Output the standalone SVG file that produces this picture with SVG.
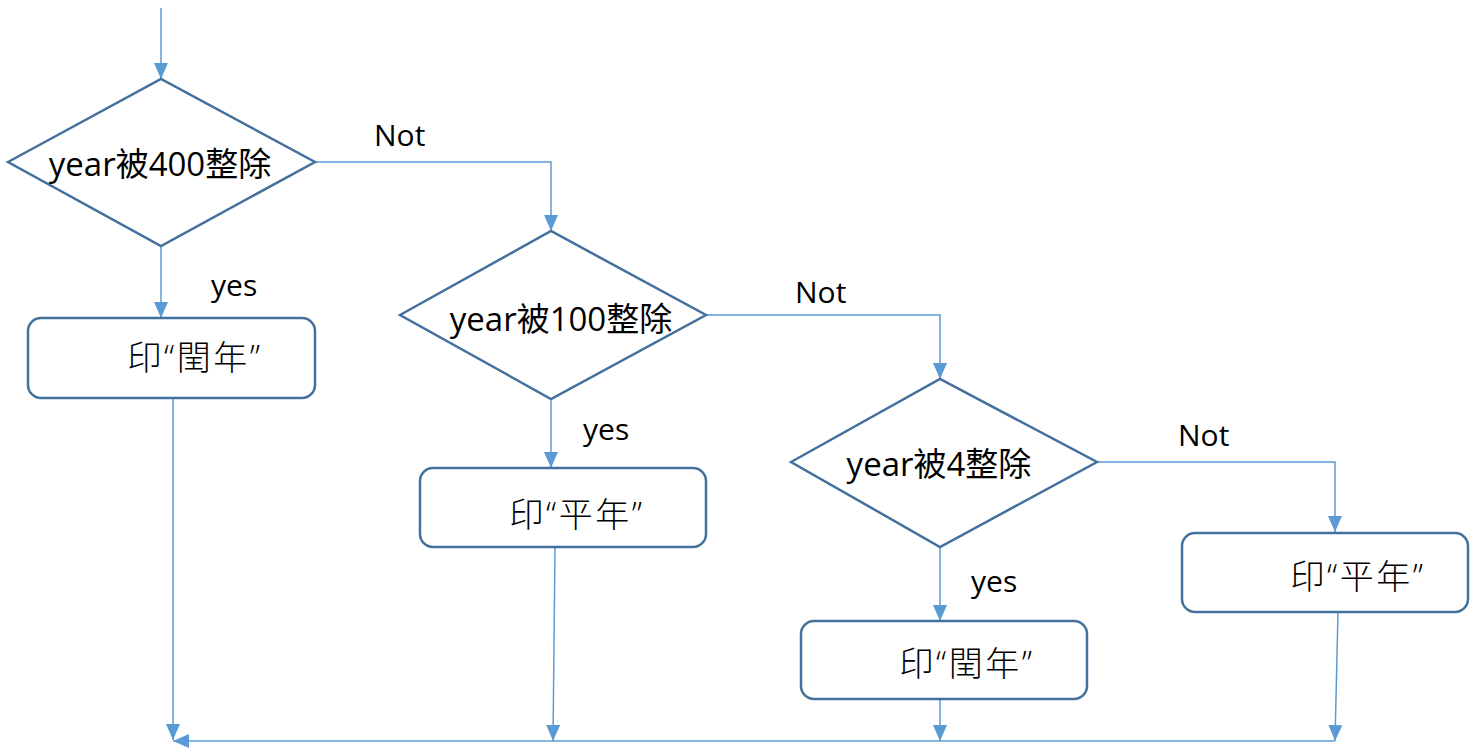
<svg xmlns="http://www.w3.org/2000/svg" width="1470" height="750" viewBox="0 0 1470 750">
<style>
.shape{fill:#fff;stroke:#41719C;stroke-width:2.5}
.conn{fill:none;stroke:#5B9BD5;stroke-width:1.5}
.t{font-family:"Open Sans","Noto Sans CJK TC",sans-serif;fill:#000;text-anchor:middle}
.dt{font-size:33px}
.bt{font-size:34px;font-weight:300;letter-spacing:2.5px}
.lb{font-size:30px;text-anchor:start}
</style>
<defs>
<marker id="arr" markerUnits="userSpaceOnUse" markerWidth="16" markerHeight="14" refX="16" refY="7" orient="auto">
<path d="M0,0 L16,7 L0,14 z" fill="#5B9BD5"/>
</marker>
</defs>
<rect width="1470" height="750" fill="#fff"/>
<g id="connectors">
<path class="conn" d="M161,8 V79" marker-end="url(#arr)"/>
<path class="conn" d="M315,162 H551 V231" marker-end="url(#arr)"/>
<path class="conn" d="M161,246 V318" marker-end="url(#arr)"/>
<path class="conn" d="M173,398 V740" marker-end="url(#arr)"/>
<path class="conn" d="M551,399 V468" marker-end="url(#arr)"/>
<path class="conn" d="M555,547 L553,741" marker-end="url(#arr)"/>
<path class="conn" d="M706,315 H940 V379" marker-end="url(#arr)"/>
<path class="conn" d="M940,547 V621" marker-end="url(#arr)"/>
<path class="conn" d="M940,699 V741" marker-end="url(#arr)"/>
<path class="conn" d="M1097,462 H1335 V532" marker-end="url(#arr)"/>
<path class="conn" d="M1338,612 L1335,741" marker-end="url(#arr)"/>
<path class="conn" d="M1335,741 H173" marker-end="url(#arr)"/>
</g>
<g id="labels">
<text class="t lb" x="374" y="146">Not</text>
<text class="t lb" x="795" y="303">Not</text>
<text class="t lb" x="1178" y="446">Not</text>
<text class="t lb" x="211" y="296">yes</text>
<text class="t lb" x="583" y="440">yes</text>
<text class="t lb" x="971" y="592">yes</text>
</g>
<g id="d1">
<polygon class="shape" points="8,162 161,79 315,162 161,246"/>
<text class="t dt" x="160" y="176">year被400整除</text>
</g>
<g id="d2">
<polygon class="shape" points="400,315 551,231 706,315 551,399"/>
<text class="t dt" x="561" y="331">year被100整除</text>
</g>
<g id="d3">
<polygon class="shape" points="791,462 940,379 1097,462 940,547"/>
<text class="t dt" x="939" y="476">year被4整除</text>
</g>
<g id="b1">
<rect class="shape" x="28" y="318" width="287" height="80" rx="13"/>
<text class="t bt" x="195" y="370">印“閏年”</text>
</g>
<g id="b2">
<rect class="shape" x="420" y="468" width="286" height="79" rx="13"/>
<text class="t bt" x="577" y="527">印“平年”</text>
</g>
<g id="b3">
<rect class="shape" x="801" y="621" width="286" height="78" rx="13"/>
<text class="t bt" x="967" y="676">印“閏年”</text>
</g>
<g id="b4">
<rect class="shape" x="1182" y="533" width="286" height="79" rx="13"/>
<text class="t bt" x="1358" y="589">印“平年”</text>
</g>
</svg>
